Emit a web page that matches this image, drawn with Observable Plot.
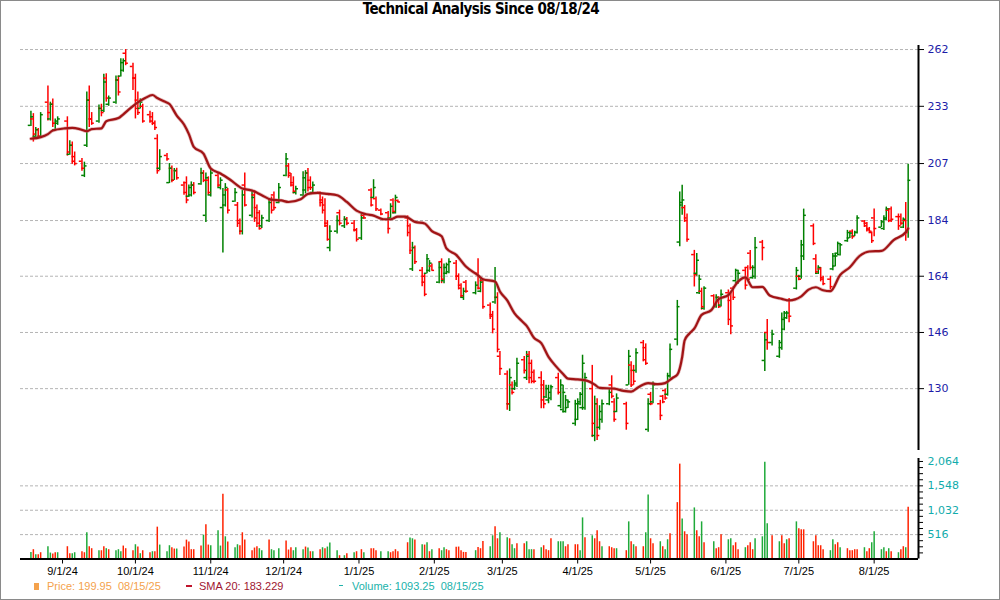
<!DOCTYPE html>
<html>
<head>
<meta charset="utf-8">
<script src="https://cdn.jsdelivr.net/npm/d3@7"></script>
<script src="https://cdn.jsdelivr.net/npm/@observablehq/plot@0.6"></script>
<style>
  html, body { margin: 0; padding: 0; background: #fff; }
  #chart { position: relative; width: 1000px; height: 600px; overflow: hidden; background: #fff;
           font-family: "Liberation Sans", Arial, sans-serif; }
  #frame { position: absolute; left: 0; top: 0; width: 1000px; height: 600px; box-sizing: border-box;
           border: 1px solid #8a8a8a; pointer-events: none; }
  #title { position: absolute; left: 0; width: 962px; top: 0px; text-align: center; letter-spacing: -0.55px;
           font: bold 15px "Liberation Sans Narrow", "Arial Narrow", "DejaVu Sans Condensed", sans-serif; color: #000; }
  #price, #volume { position: absolute; left: 0; }
  #price { top: 0; }
  #volume { top: 452px; }
  .leg { position: absolute; top: 580px; font-size: 11px; line-height: 12px; white-space: pre; }
  .mk { position: absolute; }
</style>
</head>
<body>
<div id="chart">
  <div id="title"></div>
  <div id="price"></div>
  <div id="volume"></div>
  <div id="legend"></div>
  <div id="frame"></div>
</div>
<script>
// ---------------- DATA ----------------
const titleText = "Technical Analysis Since 08/18/24";

const dates = [
"2024-08-19","2024-08-20","2024-08-21","2024-08-22","2024-08-23","2024-08-26","2024-08-27","2024-08-28","2024-08-29","2024-08-30",
"2024-09-03","2024-09-04","2024-09-05","2024-09-06","2024-09-09","2024-09-10","2024-09-11","2024-09-12","2024-09-13","2024-09-16",
"2024-09-17","2024-09-18","2024-09-19","2024-09-20","2024-09-23","2024-09-24","2024-09-25","2024-09-26","2024-09-27","2024-09-30",
"2024-10-01","2024-10-02","2024-10-03","2024-10-04","2024-10-07","2024-10-08","2024-10-09","2024-10-10","2024-10-11","2024-10-14",
"2024-10-15","2024-10-16","2024-10-17","2024-10-18","2024-10-21","2024-10-22","2024-10-23","2024-10-24","2024-10-25","2024-10-28",
"2024-10-29","2024-10-30","2024-10-31","2024-11-01","2024-11-04","2024-11-05","2024-11-06","2024-11-07","2024-11-08","2024-11-11",
"2024-11-12","2024-11-13","2024-11-14","2024-11-15","2024-11-18","2024-11-19","2024-11-20","2024-11-21","2024-11-22","2024-11-25",
"2024-11-26","2024-11-27","2024-11-29","2024-12-02","2024-12-03","2024-12-04","2024-12-05","2024-12-06","2024-12-09","2024-12-10",
"2024-12-11","2024-12-12","2024-12-13","2024-12-16","2024-12-17","2024-12-18","2024-12-19","2024-12-20","2024-12-23","2024-12-24",
"2024-12-26","2024-12-27","2024-12-30","2024-12-31","2025-01-02","2025-01-03","2025-01-06","2025-01-07","2025-01-08","2025-01-10",
"2025-01-13","2025-01-14","2025-01-15","2025-01-16","2025-01-17","2025-01-21","2025-01-22","2025-01-23","2025-01-24","2025-01-27",
"2025-01-28","2025-01-29","2025-01-30","2025-01-31","2025-02-03","2025-02-04","2025-02-05","2025-02-06","2025-02-07","2025-02-10",
"2025-02-11","2025-02-12","2025-02-13","2025-02-14","2025-02-18","2025-02-19","2025-02-20","2025-02-21","2025-02-24","2025-02-25",
"2025-02-26","2025-02-27","2025-02-28","2025-03-03","2025-03-04","2025-03-05","2025-03-06","2025-03-07","2025-03-10","2025-03-11",
"2025-03-12","2025-03-13","2025-03-14","2025-03-17","2025-03-18","2025-03-19","2025-03-20","2025-03-21","2025-03-24","2025-03-25",
"2025-03-26","2025-03-27","2025-03-28","2025-03-31","2025-04-01","2025-04-02","2025-04-03","2025-04-04","2025-04-07","2025-04-08",
"2025-04-09","2025-04-10","2025-04-11","2025-04-14","2025-04-15","2025-04-16","2025-04-17","2025-04-21","2025-04-22","2025-04-23",
"2025-04-24","2025-04-25","2025-04-28","2025-04-29","2025-04-30","2025-05-01","2025-05-02","2025-05-05","2025-05-06","2025-05-07",
"2025-05-08","2025-05-09","2025-05-12","2025-05-13","2025-05-14","2025-05-15","2025-05-16","2025-05-19","2025-05-20","2025-05-21",
"2025-05-22","2025-05-23","2025-05-27","2025-05-28","2025-05-29","2025-05-30","2025-06-02","2025-06-03","2025-06-04","2025-06-05",
"2025-06-06","2025-06-09","2025-06-10","2025-06-11","2025-06-12","2025-06-13","2025-06-16","2025-06-17","2025-06-18","2025-06-20",
"2025-06-23","2025-06-24","2025-06-25","2025-06-26","2025-06-27","2025-06-30","2025-07-01","2025-07-02","2025-07-03","2025-07-07",
"2025-07-08","2025-07-09","2025-07-10","2025-07-11","2025-07-14","2025-07-15","2025-07-16","2025-07-17","2025-07-18","2025-07-21",
"2025-07-22","2025-07-23","2025-07-24","2025-07-25","2025-07-28","2025-07-29","2025-07-30","2025-07-31","2025-08-01","2025-08-04",
"2025-08-05","2025-08-06","2025-08-07","2025-08-08","2025-08-11","2025-08-12","2025-08-13","2025-08-14","2025-08-15"
];

const open = [
224,227,219,222,219,235,227,234,222,225,
226,211,215,210,208,202,215,236,227,226,
232,231,247,234,235,246,248,251,260,253,
247,236,232,233,229,228,225,218,205,210.5,
199,205,200,204,198,199,193.5,194,198,198.5,
203,186,200,194,202,197,189,190,196,191.5,
190,184,180,198,186,194,189,187,182,184,
192,194,191,202,206,202,199,195,194,196,
203,200,195,195,192,190,183,174,180,187,
182,184.5,183,180.5,177.5,186,196,193,192.5,188,
187,185,192,187,191.8,185,182,166.5,174,166,
164,165,166,167.5,162,169,162.5,165,165.5,168.5,
164,161,157,162,158.5,165,159,162.5,154.5,151.5,
155.5,157,139,134,126,131,130,131,138,133,
139.5,137,134.5,133,131,127.8,127,127.5,133,125.5,
124.5,124,125,121,122,126,125,125,130,118,
126,120,122,126,131,126.5,124,126,131,136.5,
135,135,143,141.5,119.5,128.5,126.5,126,128,129.5,
128.5,133.5,144,176,190,189,185,171.5,165,158.5,
159,153.5,157.5,154,157,154.5,158.5,156,160,162.5,
162,166,167,172,163.5,164,176,137.8,146,143,
139,141.5,147,150.5,156,160,164,164,171,182,
170,165,166.5,163.5,163,166.5,167.5,172,171.5,176.5,
177.5,180,178.2,179.5,183.8,183,181,179.5,185,181.5,
181,184.5,188,188.5,185.5,185.5,181.5,184,180
];

const high = [
230.6,229.5,223,222.5,230,243,235,236.6,227,228,
228,217,216.4,212,209.2,207.6,240,243,230,233.6,
234,249,249.2,238,248,248,257,257,262,254.7,
249,240,236.6,234,230.6,230,226,219.7,213,211.3,
207,206,204.9,205,199.3,201.4,198,199.3,199,205,
204,203,201.4,204.5,203,201,196.6,198.6,196.6,196.6,
191,184.6,195.8,203,195.8,195.8,190,187.8,186,192.5,
193.2,195.2,198.6,211.3,207,202.8,201.4,197.5,203.5,204,
204.9,201.4,199.3,195.2,193.2,192.5,184,182,185.8,188,
185.5,185.2,184,181,186.5,186.5,196.5,200.2,193.2,188.4,
187.5,190.5,192.5,193.9,192,185.8,182.7,175.9,174.6,167,
164.8,171.5,169.4,168.2,168.8,170,168.2,168.5,170,169.4,
164.8,161.5,160,162.6,162.1,170,163,163,155.2,152.5,
167,158.5,140.4,134.8,135.4,131.8,132.2,138.4,138.9,140.4,
140.4,137.9,135.1,134.6,132.2,130.9,130.9,130.9,134.2,132.4,
130.9,128.2,127,126.9,127.3,129,139.3,134.2,136.4,128,
127.3,125.5,127,129.9,133.5,127.3,128.6,126.4,140.7,137.4,
136.4,141.2,143.6,142.6,127.3,129,131.8,126.9,128.2,129.9,
134.2,142.6,156,195.2,197.9,189.8,186.5,173,171.9,164.3,
160,160.5,157.8,157.8,157.2,159.4,159.4,158.3,160.5,166.4,
166,167,167.6,173,167.6,177.7,176.6,146,150,146.7,
143.6,152,152.5,152.5,156.6,167,164.3,176.6,188.4,182.7,
171.4,167.6,167,164,164,171.9,171.9,176,175.5,180.3,
179.7,180.5,180,185.8,184,183.3,181.4,179.7,188.4,184,
185.8,189.2,188.4,189.2,186.5,186.5,185,191,206.7
];

const low = [
223.5,216.4,218.5,217.9,218.6,226,226,223,221.6,224,
210.2,210.6,206.7,206,203.7,201.1,214,223,224,225,
228,230,235,233,234,238,247.5,250,253.4,240.7,
227,228.6,231.7,225,225,223.9,221.6,202.5,204,208,
198.6,199,199.9,200,193.9,190.5,193,193.2,194,197.9,
199,183.3,193.9,193.2,197,196,172.1,189.2,186.5,191.1,
181.4,178.6,178.6,189.2,185,183.3,181.4,180.4,181,183.3,
186.5,187.8,190.5,201.4,200.8,197.2,194.4,194,193.2,194.4,
195.2,195.8,194.4,189.2,186.5,181.4,176.3,172.5,179,182,
181,182,179.7,176,176.6,184.5,189.2,192.6,187.5,185.8,
179,184.7,186.5,186.5,191,177.9,171.5,165.6,168,160.5,
157.2,164.8,165.3,165.9,161.5,161.5,161.5,164.5,164.8,162.6,
159.4,156.7,156,158.3,157.8,159.4,158.5,153.2,150,145.6,
154.8,140,133.6,124.3,124,128.3,129.5,130.3,134,132.2,
131.3,131.3,131.3,124.7,124.7,127.4,126,126.8,128.3,124.7,
123.6,123.6,124.8,120.3,121.7,125.5,124.3,124.3,117.5,116.5,
116.8,119.3,121,125.5,127.3,121.3,123.7,119.3,130.9,130.3,
130.9,134.2,137.4,136.4,118.8,125.5,126,121.7,126,126.9,
128,132.8,142,174.3,186,183.3,175.9,160.4,164,157.9,
152.9,152.9,153.9,153.5,153.4,153.9,148.1,145.3,156,162.1,
161.3,159.4,162.6,166,163,163,169.3,134.7,140.7,142,
138.4,140.7,146.5,150,149,159.4,162.5,163,169.4,174.7,
164.6,164.6,162.1,160.8,159.4,165.9,167.2,171.4,171,175.9,
177.3,177,178,179,181.4,179.7,179.7,175.5,177.9,181.4,
180.3,184,183.2,183.3,180.3,182,181,176.3,177.4
];

const close = [
228,220,222,219,229,230,234,225,226,227,
212,215,208,207,205,206,236,227,225,232,
230,245,237,237,246,240,255,256,254.7,247,
232,230,235,226,226,225,223,204,210,209,
205,200,204,201,195,192,197,198,195,203,
200,201,195,203,198,200,194,197,188,195,
183,180,194,190,193,185,183,181,185,191,
188,189,197,209,203,198,195.5,196.5,201,203,
197,197,198,191,188,182,177,180,184,183,
184.5,183,180.5,177,185,185,190,197,188.5,186.5,
181,189.5,187.5,193,191.2,179.5,173,174,169,162,
158,170,168.5,166,167,163,167,168,169,164,
160,157.5,159,159,161,160,162,154,151,147,
157,141,135.5,126,133,129,131.5,137,135,139,
133,132,132,127,126,130,129,130.5,129,131,
129,127,126.5,126,126.5,128.5,137,133,121,126,
118,124,126,129,128,122,127.5,121,139,131,
132,140,138,137,126,126,131,123,126.5,127.5,
133.5,141,154,191,192,184,177,164.5,169.5,163,
154,160,154.5,157,154,158,150,148,157,166,
165,161,163,167,167,174,174,143.8,143,145.5,
143,150,152,152,151,166,163,175,186,175.5,
165.5,167,163,161.5,160.5,171,171,175.5,175,179.5,
179.3,178,179.6,185,182,180.5,180,176.5,181,183.5,
185,188.5,184,184.5,182,183,184.5,179.5,199.95
];

const volume = [
140,197,91,91,133,260,126,105,133,133,
260,112,112,133,154,133,555,260,218,175,
175,260,218,197,175,197,154,274,218,175,
302,253,112,175,133,154,154,674,295,154,
281,239,211,211,253,400,358,197,197,274,
505,723,295,281,597,274,1369,470,358,239,
302,281,555,400,175,232,260,218,175,400,
197,175,218,379,190,239,175,239,197,253,
232,154,154,197,239,218,253,337,175,70,
70,112,133,154,197,133,218,218,175,154,
154,133,154,197,154,344,442,428,400,302,
295,344,154,197,218,175,239,197,175,250,
253,176,140,140,176,246,218,372,260,491,
681,428,555,449,428,302,218,323,323,365,
197,197,197,239,281,197,176,428,365,365,
365,260,302,302,302,176,870,449,491,428,
597,365,260,260,239,218,218,176,786,365,
302,260,260,555,1355,428,323,365,260,197,
407,534,1193,2008,849,576,512,1081,597,470,
786,344,365,218,239,512,407,428,281,344,
197,239,281,344,197,428,470,2050,744,491,
365,491,323,407,428,786,639,618,618,365,
491,281,281,197,176,407,302,344,239,218,
176,176,197,197,239,154,218,344,576,197,
239,154,218,154,133,197,260,239,1093.25
];

// 1 = green volume bar, 0 = red volume bar
const volumeUp = [
1,0,1,0,0,1,1,0,0,1,
0,0,1,1,0,0,1,0,0,1,
0,0,1,0,1,1,1,0,0,0,
1,0,1,0,0,1,0,0,1,1,
1,0,0,1,0,0,0,0,0,0,
1,0,0,1,1,1,0,1,0,1,
1,0,0,0,0,0,0,1,1,0,
1,1,1,0,0,0,1,1,1,0,
1,0,1,0,1,0,1,1,1,0,
1,0,1,0,0,1,0,0,0,1,
1,0,0,0,0,0,1,1,0,1,
0,1,0,1,0,1,1,0,0,0,
0,0,0,0,1,0,0,0,1,1,
0,0,1,1,0,1,1,0,0,1,
1,1,0,1,0,0,0,0,1,1,
1,0,0,0,0,1,1,0,1,0,
0,0,1,0,0,0,1,0,1,0,
1,0,0,1,1,0,0,1,0,1,
1,0,0,0,1,0,0,1,0,0,
1,0,1,0,0,0,1,1,0,0,
0,1,0,0,0,1,1,1,1,0,
1,0,0,1,0,1,0,0,0,0,
0,0,0,0,1,1,0,0,1,0,
0,0,0,0,1,0,0,1,1,1,
1,0,1,0,1,0,0,1,0
];

const smaDates = [
"2024-08-19","2024-08-23","2024-08-26","2024-08-28","2024-09-02","2024-09-05","2024-09-08","2024-09-11","2024-09-13","2024-09-17",
"2024-09-19","2024-09-24","2024-09-28","2024-10-02","2024-10-05","2024-10-08","2024-10-10","2024-10-13","2024-10-15","2024-10-18",
"2024-10-21","2024-10-23","2024-10-25","2024-10-29","2024-11-01","2024-11-05","2024-11-09","2024-11-14","2024-11-18","2024-11-22",
"2024-11-26","2024-11-30","2024-12-03","2024-12-08","2024-12-11","2024-12-15","2024-12-19","2024-12-23","2024-12-27","2024-12-31",
"2025-01-04","2025-01-07","2025-01-11","2025-01-14","2025-01-17","2025-01-20","2025-01-24","2025-01-28","2025-01-31","2025-02-04",
"2025-02-06","2025-02-10","2025-02-14","2025-02-19","2025-02-21","2025-02-26","2025-02-28","2025-03-03","2025-03-06","2025-03-09",
"2025-03-11","2025-03-14","2025-03-17","2025-03-20","2025-03-23","2025-03-26","2025-03-28","2025-04-01","2025-04-05","2025-04-08",
"2025-04-10","2025-04-16","2025-04-20","2025-04-23","2025-04-26","2025-04-30","2025-05-04","2025-05-07","2025-05-10","2025-05-12",
"2025-05-14","2025-05-15","2025-05-17","2025-05-19","2025-05-22","2025-05-26","2025-05-29","2025-06-02","2025-06-06","2025-06-09",
"2025-06-12","2025-06-16","2025-06-19","2025-06-24","2025-06-27","2025-07-02","2025-07-05","2025-07-08","2025-07-11","2025-07-14",
"2025-07-18","2025-07-22","2025-07-26","2025-07-30","2025-08-04","2025-08-09","2025-08-14","2025-08-15"
];
const smaValues = [
217.9,218.6,220.0,221.6,222.6,222.8,222.3,221.3,222.3,222.6,
225.9,227.4,231.2,234.9,237.0,238.5,237.0,235.3,234.1,228.6,
224.4,220.0,214.3,211.3,204.9,202.8,200.2,196.6,195.8,193.9,
192.1,191.8,191.2,192.3,194.4,194.8,194.4,193.9,191.2,187.8,
186.4,185.9,184.5,184.5,185.5,185.5,183.5,182.9,180.0,178.1,
173.7,171.4,167.3,164.3,163.0,162.2,158.9,156.0,151.9,149.5,
148.0,144.4,142.8,138.8,136.2,134.0,132.7,132.5,132.1,131.1,
130.2,130.0,129.4,129.2,130.4,131.5,131.2,131.5,132.9,133.8,
138.8,143.6,145.7,147.2,151.4,152.9,156.4,157.7,162.2,163.6,
160.3,160.4,157.6,156.5,156.0,157.3,159.5,160.3,159.3,159.0,
164.4,167.1,171.0,172.6,172.8,176.7,179.6,181.0
];

const priceTicks = [130, 146, 164, 184, 207, 233, 262];
const volumeTicks = [516, 1032, 1548, 2064];
const volumeGrid = [516, 1032, 1548];
const monthTicks = ["2024-09-01","2024-10-01","2024-11-01","2024-12-01","2025-01-01","2025-02-01",
                    "2025-03-01","2025-04-01","2025-05-01","2025-06-01","2025-07-01","2025-08-01"];

const legendPrice = "Price: 199.95  08/15/25";
const legendSma = "SMA 20: 183.229";
const legendVolume = "Volume: 1093.25  08/15/25";

// ---------------- STYLE ----------------
const UP = "#008000", DOWN = "#ff0000";
const VUP = "#1faa3a", VDOWN = "#ff2200";
const SMA_COLOR = "#a11416";
const GRID = "#b4b4b4";
const xDomain = [new Date(Date.UTC(2024, 7, 14, 17)), new Date(Date.UTC(2025, 7, 19, 6))];
const DAY = 864e5;
const TICK_DAYS = 1.1;

const rows = dates.map((d, i) => ({
  date: new Date(d), open: open[i], high: high[i], low: low[i], close: close[i],
  volume: volume[i], vup: volumeUp[i]
}));
const sma = smaDates.map((d, i) => ({date: new Date(d), value: smaValues[i]}));
const barColor = d => d.close >= d.open ? UP : DOWN;

document.getElementById("title").textContent = titleText;

// ---------------- PRICE PANEL ----------------
const price = Plot.plot({
  width: 1000, height: 452,
  marginTop: 45, marginBottom: 2, marginLeft: 20, marginRight: 82,
  style: {fontFamily: "'DejaVu Sans', Verdana, sans-serif", fontSize: "11px", background: "transparent", overflow: "visible"},
  x: {type: "utc", domain: xDomain, axis: null},
  y: {type: "log", domain: [114.4, 264.2], axis: "right", ticks: priceTicks, tickFormat: d => String(d),
      tickSize: 5, tickPadding: 4, label: null},
  marks: [
    Plot.ruleY(priceTicks, {stroke: GRID, strokeWidth: 1, strokeDasharray: "3,2"}),
    Plot.ruleX(rows, {x: "date", y1: "low", y2: "high", stroke: barColor, strokeWidth: 1.5}),
    Plot.ruleY(rows, {y: "open", x1: d => new Date(+d.date - TICK_DAYS * DAY), x2: "date", stroke: barColor, strokeWidth: 1.5}),
    Plot.ruleY(rows, {y: "close", x1: "date", x2: d => new Date(+d.date + TICK_DAYS * DAY), stroke: barColor, strokeWidth: 1.5}),
    Plot.line(sma, {x: "date", y: "value", stroke: "#c86a6a", strokeWidth: 3.6, strokeOpacity: 0.45, curve: "monotone-x"}),
    Plot.line(sma, {x: "date", y: "value", stroke: SMA_COLOR, strokeWidth: 2.2, curve: "monotone-x"}),
    Plot.ruleX([xDomain[1]], {stroke: "#000", strokeWidth: 2})
  ]
});
document.getElementById("price").appendChild(price);

// ---------------- VOLUME PANEL ----------------
const volMax = 2127;
const minorTicks = d3.range(129, 2065, 129);
const fmtComma = d3.format(",");
const volumePlot = Plot.plot({
  width: 1000, height: 148,
  marginTop: 6, marginBottom: 41.5, marginLeft: 20, marginRight: 82,
  style: {fontFamily: "'DejaVu Sans', Verdana, sans-serif", fontSize: "11px", background: "transparent", overflow: "visible"},
  x: {type: "utc", domain: xDomain, ticks: monthTicks.map(d => new Date(d)), tickFormat: d3.utcFormat("%-m/%-d/%y"),
      tickSize: 5, tickPadding: 3, label: null},
  y: {domain: [0, volMax], axis: "right", ticks: minorTicks,
      tickFormat: d => volumeTicks.includes(d) ? fmtComma(d) : "", tickSize: 4, tickPadding: 5, label: null},
  marks: [
    Plot.ruleY(volumeGrid, {stroke: GRID, strokeWidth: 1, strokeDasharray: "3,2"}),
    Plot.ruleX(rows, {x: "date", y: "volume", stroke: d => d.vup ? VUP : VDOWN, strokeWidth: 1.5}),
    Plot.ruleY([0], {stroke: "#000", strokeWidth: 2}),
    Plot.ruleX([xDomain[1]], {stroke: "#000", strokeWidth: 2})
  ]
});
document.getElementById("volume").appendChild(volumePlot);

// axis label colours / fonts
d3.select(price).selectAll('g[aria-label^="y-axis"] text').attr("fill", "#1c1ca8");
d3.select(volumePlot).selectAll('g[aria-label^="y-axis"] text').attr("fill", "#12abab");
d3.select(volumePlot).selectAll('g[aria-label^="x-axis"] text')
  .attr("fill", "#000").style("font-family", "'Liberation Sans', Arial, sans-serif").style("font-size", "11px");

// ---------------- LEGEND ----------------
const legend = document.getElementById("legend");
function addDiv(cls, styles, text) {
  const el = document.createElement("div");
  el.className = cls;
  Object.assign(el.style, styles);
  if (text) el.textContent = text;
  legend.appendChild(el);
}
addDiv("mk", {left: "34px", top: "583px", width: "5px", height: "7px", background: "#f4a24c"});
addDiv("leg", {left: "47px", color: "#f4a24c"}, legendPrice);
addDiv("mk", {left: "186px", top: "585px", width: "6px", height: "2px", background: "#c0142c"});
addDiv("leg", {left: "199px", color: "#9e1530"}, legendSma);
addDiv("mk", {left: "339px", top: "585px", width: "4px", height: "1px", background: "#20b2aa"});
addDiv("leg", {left: "352px", color: "#20b2aa"}, legendVolume);
</script>
</body>
</html>
